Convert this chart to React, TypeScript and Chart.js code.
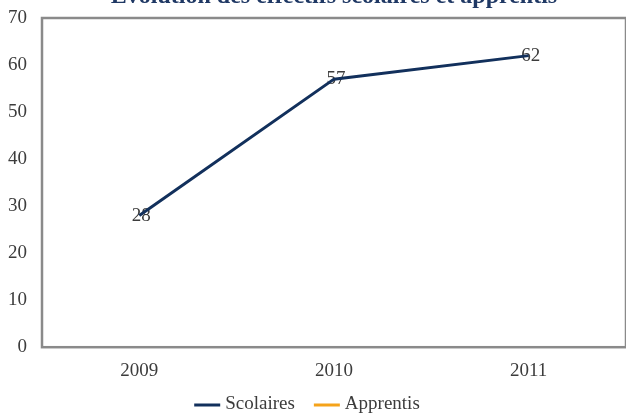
import React, { useEffect, useRef } from "react";
import { Chart, registerables } from "chart.js";

Chart.register(...registerables);

const TITLE = "Évolution des effectifs scolaires et apprentis";
const YEARS = ["2009", "2010", "2011"];
const SCOLAIRES = [28, 57, 62];
const APPRENTIS: (number | null)[] = [null, null, null];
const Y_MIN = 0;
const Y_MAX = 70;
const Y_STEP = 10;

const FONT = "'Liberation Serif', 'Times New Roman', serif";
const TEXT = "#3c3c3c";
const NAVY = "#12305c";
const ORANGE = "#f5a31a";
const FRAME = "#8a8a8a";

const framePlugin = {
  id: "frame",
  beforeDatasetsDraw(chart: any) {
    const { ctx, chartArea } = chart;
    ctx.save();
    ctx.strokeStyle = FRAME;
    ctx.lineWidth = 2.5;
    ctx.strokeRect(chartArea.left, chartArea.top, chartArea.right - chartArea.left, chartArea.bottom - chartArea.top);
    const meta = chart.getDatasetMeta(0);
    ctx.fillStyle = TEXT;
    ctx.font = `19px ${FONT}`;
    ctx.textAlign = "center";
    ctx.textBaseline = "middle";
    meta.data.forEach((pt: any, i: number) => {
      const v = chart.data.datasets[0].data[i];
      if (v == null) return;
      ctx.fillText(String(v), pt.x + 2, pt.y);
    });
    ctx.restore();
  },
  afterDraw(chart: any) {
    const { ctx, chartArea } = chart;
    ctx.save();
    // title (mostly cropped above the picture)
    ctx.fillStyle = "#1f3864";
    ctx.font = `bold 24px ${FONT}`;
    ctx.textAlign = "center";
    ctx.textBaseline = "alphabetic";
    ctx.fillText(TITLE, (chartArea.left + chartArea.right) / 2, chartArea.top - 15);
    // legend
    ctx.font = `19px ${FONT}`;
    ctx.textBaseline = "middle";
    ctx.textAlign = "left";
    const lineW = 26, gapText = 5, gapItem = 19;
    const items = chart.data.datasets.map((d: any) => ({ text: d.label, color: d.borderColor, w: ctx.measureText(d.label).width }));
    const total = items.reduce((s: number, it: any) => s + lineW + gapText + it.w, 0) + gapItem * (items.length - 1);
    let x = chart.width / 2 - 9 - total / 2;
    const y = chart.height - 10;
    items.forEach((it: any) => {
      ctx.strokeStyle = it.color;
      ctx.lineWidth = 3;
      ctx.beginPath();
      ctx.moveTo(x, y + 1);
      ctx.lineTo(x + lineW, y + 1);
      ctx.stroke();
      ctx.fillStyle = TEXT;
      ctx.fillText(it.text, x + lineW + gapText, y);
      x += lineW + gapText + it.w + gapItem;
    });
    ctx.restore();
  },
};

export default function App() {
  const ref = useRef<HTMLCanvasElement>(null);
  useEffect(() => {
    if (!ref.current) return;
    const chart = new Chart(ref.current, {
      type: "line",
      data: {
        labels: YEARS,
        datasets: [
          { label: "Scolaires", data: SCOLAIRES, borderColor: NAVY, backgroundColor: NAVY, borderWidth: 3, pointRadius: 0, tension: 0 },
          { label: "Apprentis", data: APPRENTIS, borderColor: ORANGE, backgroundColor: ORANGE, borderWidth: 3, pointRadius: 0 },
        ],
      },
      options: {
        animation: false,
        responsive: true,
        maintainAspectRatio: false,
        layout: { padding: { left: 8, right: 6, top: 0, bottom: 20 } },
        plugins: {
          title: { display: false },
          legend: { display: false },
          tooltip: { enabled: false },
        },
        scales: {
          x: {
            offset: true,
            grid: { display: false, drawTicks: false },
            border: { display: false },
            ticks: { color: TEXT, font: { family: FONT, size: 19 }, padding: 12 },
          },
          y: {
            min: Y_MIN,
            max: Y_MAX,
            grid: { display: false, drawTicks: false },
            border: { display: false },
            ticks: { stepSize: Y_STEP, color: TEXT, font: { family: FONT, size: 19 }, padding: 15 },
            afterFit: (s: any) => { s.width = 34; s.paddingTop = 18; },
          },
        },
      },
      plugins: [framePlugin],
    });
    return () => chart.destroy();
  }, []);
  return (
    <div style={{ position: "fixed", left: 0, top: 0, width: 626, height: 414, overflow: "hidden", background: "#fff" }}>
      <div style={{ position: "absolute", left: 0, top: 0, width: 632, height: 414 }}>
        <canvas ref={ref} />
      </div>
    </div>
  );
}
